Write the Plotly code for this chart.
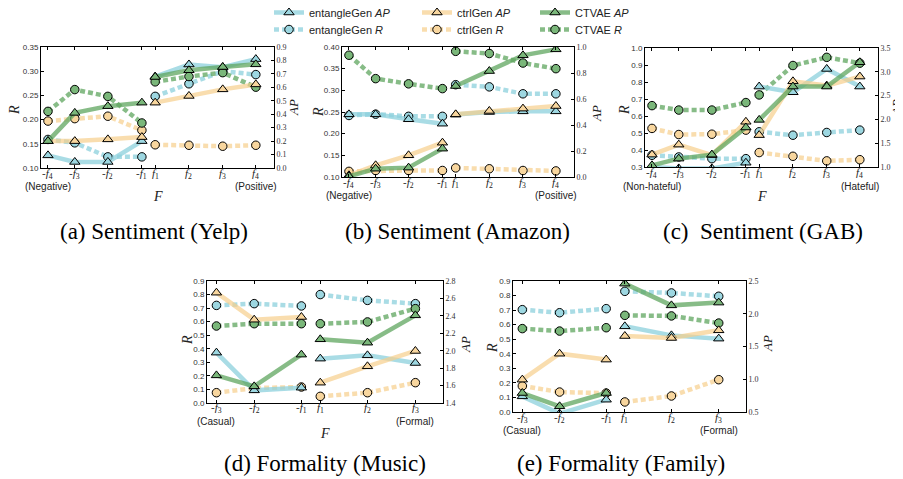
import plotly.graph_objects as go

W, H = 903, 479
OFF = 8  # the page body margin shifts the figure by this many pixels

# ---------------- data ----------------
sent_x = [3, 14.5, 28.7, 43.3, 49, 63.5, 78, 92.2]
sent_ticks = ["-<i>f</i><sub>4</sub>", "-<i>f</i><sub>3</sub>", "-<i>f</i><sub>2</sub>", "-<i>f</i><sub>1</sub>",
              "<i>f</i><sub>1</sub>", "<i>f</i><sub>2</sub>", "<i>f</i><sub>3</sub>", "<i>f</i><sub>4</sub>"]
form_x = [4, 20, 40, 48, 68, 88.3]
form_ticks = ["-<i>f</i><sub>3</sub>", "-<i>f</i><sub>2</sub>", "-<i>f</i><sub>1</sub>",
              "<i>f</i><sub>1</sub>", "<i>f</i><sub>2</sub>", "<i>f</i><sub>3</sub>"]

yelp_R_ent = [0.159, 0.152, 0.123, 0.123, 0.248, 0.274, 0.300, 0.293]
yelp_R_ctrl = [0.197, 0.202, 0.207, 0.178, 0.148, 0.147, 0.145, 0.147]
yelp_R_ctvae = [0.217, 0.262, 0.248, 0.193, 0.278, 0.289, 0.297, 0.267]
yelp_AP_ent = [0.094, 0.045, 0.045, 0.20, 0.68, 0.77, 0.75, 0.81]
yelp_AP_ctrl = [0.20, 0.20, 0.213, 0.23, 0.486, 0.536, 0.585, 0.622]
yelp_AP_ctvae = [0.20, 0.41, 0.46, 0.486, 0.677, 0.727, 0.751, 0.771]

amz_R_ent = [0.242, 0.245, 0.240, 0.240, 0.313, 0.308, 0.292, 0.292]
amz_R_ctrl = [0.113, 0.115, 0.115, 0.115, 0.121, 0.119, 0.115, 0.114]
amz_R_ctvae = [0.381, 0.327, 0.315, 0.304, 0.390, 0.385, 0.363, 0.350]
amz_AP_ent = [0.482, 0.482, 0.444, 0.410, 0.48, 0.50, 0.505, 0.505]
amz_AP_ctrl = [0.013, 0.09, 0.167, 0.264, 0.482, 0.508, 0.526, 0.546]
amz_AP_ctvae = [0.005, 0.064, 0.072, 0.218, 0.70, 0.815, 0.936, 0.982]

gab_R_ent = [0.369, 0.359, 0.349, 0.349, 0.507, 0.487, 0.503, 0.517]
gab_R_ctrl = [0.527, 0.491, 0.493, 0.517, 0.385, 0.363, 0.336, 0.343]
gab_R_ctvae = [0.661, 0.635, 0.635, 0.679, 0.724, 0.897, 0.945, 0.911]
gab_AP_ent = [1.0, 0.97, 0.97, 1.09, 2.69, 2.57, 3.06, 2.69]
gab_AP_ctrl = [1.26, 1.47, 1.25, 1.95, 1.67, 2.80, 2.71, 2.90]
gab_AP_ctvae = [1.035, 1.176, 1.26, 1.83, 1.99, 2.69, 2.69, 3.20]

mus_R_ent = [0.72, 0.733, 0.716, 0.80, 0.757, 0.733]
mus_R_ctrl = [0.076, 0.11, 0.118, 0.049, 0.076, 0.15]
mus_R_ctvae = [0.568, 0.585, 0.585, 0.585, 0.598, 0.696]
mus_AP_ent = [1.978, 1.545, 1.576, 1.909, 1.947, 1.859]
mus_AP_ctrl = [2.666, 2.356, 2.387, 1.633, 1.821, 1.997]
mus_AP_ctvae = [1.717, 1.591, 1.955, 2.131, 2.092, 2.406]

fam_R_ent = [0.703, 0.682, 0.71, 0.829, 0.818, 0.795]
fam_R_ctrl = [0.179, 0.137, 0.13, 0.069, 0.11, 0.222]
fam_R_ctvae = [0.573, 0.556, 0.579, 0.664, 0.66, 0.611]
fam_AP_ent = [0.739, 0.475, 0.688, 1.808, 1.67, 1.62]
fam_AP_ctrl = [0.994, 1.39, 1.30, 1.66, 1.63, 1.747]
fam_AP_ctvae = [0.79, 0.587, 0.79, 2.46, 2.128, 2.17]

model_names = ["entangleGen", "ctrlGen", "CTVAE"]
captions = ["(a) Sentiment (Yelp)", "(b) Sentiment (Amazon)", "(c)  Sentiment (GAB)",
            "(d) Formality (Music)", "(e) Formality (Family)"]
end_labels = [("(Negative)", "(Positive)"), ("(Negative)", "(Positive)"),
              ("(Non-hateful)", "(Hateful)"), ("(Casual)", "(Formal)"), ("(Casual)", "(Formal)")]

# ---------------- styling ----------------
line_cols = ["rgba(140,208,220,0.75)", "rgba(246,206,140,0.7)", "rgba(95,165,95,0.75)"]
fill_cols = ["#9dd7e1", "#f8d69e", "#7ab77a"]
SANS = "Liberation Sans, Arial, sans-serif"
SERIF = "Liberation Serif, Times New Roman, serif"


def py(p):
    return 1 - (p - OFF) / H


def px(p):
    return (p - OFF) / W


# panel geometry in window pixels: left, right, top, bottom; label positions
panels = [
    dict(box=(41, 274, 47, 168), x=sent_x, ticks=sent_ticks,
         R=[yelp_R_ent, yelp_R_ctrl, yelp_R_ctvae], AP=[yelp_AP_ent, yelp_AP_ctrl, yelp_AP_ctvae],
         rr=(0.10, 0.35, 0.05, ".2f"), ar=(0.0, 0.9, 0.1, ".1f"), ticky=174, endy=186, Fy=196,
         capy=231, capx=154, Rpos=(15, 110), APpos=(293, 108)),
    dict(box=(342, 574, 47, 177), x=sent_x, ticks=sent_ticks,
         R=[amz_R_ent, amz_R_ctrl, amz_R_ctvae], AP=[amz_AP_ent, amz_AP_ctrl, amz_AP_ctvae],
         rr=(0.10, 0.40, 0.05, ".2f"), ar=(0.0, 1.0, 0.2, ".1f"), ticky=183, endy=195, Fy=None,
         capy=231, capx=457, Rpos=(318, 112), APpos=(596, 114)),
    dict(box=(645, 878, 48, 167), x=sent_x, ticks=sent_ticks,
         R=[gab_R_ent, gab_R_ctrl, gab_R_ctvae], AP=[gab_AP_ent, gab_AP_ctrl, gab_AP_ctvae],
         rr=(0.3, 1.0, 0.1, ".1f"), ar=(1.0, 3.5, 0.5, ".1f"), ticky=173, endy=186, Fy=197,
         capy=231, capx=763, Rpos=(625, 110), APpos=(896, 108)),
    dict(box=(207, 443, 281, 403), x=form_x, ticks=form_ticks,
         R=[mus_R_ent, mus_R_ctrl, mus_R_ctvae], AP=[mus_AP_ent, mus_AP_ctrl, mus_AP_ctvae],
         rr=(0.0, 0.9, 0.1, ".1f"), ar=(1.4, 2.8, 0.2, ".1f"), ticky=408, endy=421, Fy=433,
         capy=463, capx=325, Rpos=(187, 340), APpos=(465, 344)),
    dict(box=(513, 746, 281, 412), x=form_x, ticks=form_ticks,
         R=[fam_R_ent, fam_R_ctrl, fam_R_ctvae], AP=[fam_AP_ent, fam_AP_ctrl, fam_AP_ctvae],
         rr=(0.0, 0.9, 0.1, ".1f"), ar=(0.5, 2.5, 0.5, ".1f"), ticky=418, endy=430, Fy=None,
         capy=463, capx=621, Rpos=(492, 348), APpos=(767, 344)),
]


def split(vals):
    h = len(vals) // 2
    return list(vals[:h]) + [None] + list(vals[h:])


def ticks_range(lo, hi, step):
    n = int(round((hi - lo) / step))
    return [round(lo + i * step, 4) for i in range(n + 1)]


fig = go.Figure()
annotations = []
layout = {}

r_legends = ["legend4", "legend5", "legend6"]
ap_legends = ["legend", "legend2", "legend3"]

for i, p in enumerate(panels):
    k = i + 1
    xa = "x" if k == 1 else f"x{k}"
    yR_idx = 2 * k - 1
    yA_idx = 2 * k
    yR = "y" if yR_idx == 1 else f"y{yR_idx}"
    yA = f"y{yA_idx}"
    xs = split(p["x"])
    # R series (dotted, circles) on left axis
    for m in range(3):
        fig.add_trace(go.Scatter(
            x=xs, y=split(p["R"][m]), xaxis=xa, yaxis=yR, mode="lines+markers",
            line=dict(color=line_cols[m], width=4.5, dash="5px,3px"),
            marker=dict(symbol="circle", size=8.5, color=fill_cols[m], line=dict(color="black", width=1)),
            name=f"{model_names[m]} <i>R</i>", legend=r_legends[m],
            showlegend=(k == 1), connectgaps=False, hoverinfo="skip"))
    # AP series (solid, triangles) on right axis
    for m in range(3):
        fig.add_trace(go.Scatter(
            x=xs, y=split(p["AP"][m]), xaxis=xa, yaxis=yA, mode="lines+markers",
            line=dict(color=line_cols[m], width=4.5),
            marker=dict(symbol="triangle-up", size=9, color=fill_cols[m], line=dict(color="black", width=1)),
            name=f"{model_names[m]} <i>AP</i>", legend=ap_legends[m],
            showlegend=(k == 1), connectgaps=False, hoverinfo="skip"))

    l, r, t, b = p["box"]
    xkey = "xaxis" if k == 1 else f"xaxis{k}"
    yRkey = "yaxis" if yR_idx == 1 else f"yaxis{yR_idx}"
    yAkey = f"yaxis{yA_idx}"
    layout[xkey] = dict(domain=[px(l), px(r)], range=[0, 100], anchor=yR,
                        tickvals=p["x"], showticklabels=False, ticks="inside", ticklen=3,
                        tickcolor="black", mirror="ticks", showline=True, linecolor="black",
                        linewidth=1, showgrid=False, zeroline=False)
    lo, hi, st, fmt = p["rr"]
    layout[yRkey] = dict(domain=[py(b), py(t)], range=[lo, hi], anchor=xa,
                         tickvals=ticks_range(lo, hi, st), tickformat=fmt, ticks="inside",
                         ticklen=3, tickcolor="black", showline=True, linecolor="black",
                         linewidth=1, mirror=True, showgrid=False, zeroline=False,
                         tickfont=dict(family=SANS, size=8, color="#333"))
    lo, hi, st, fmt = p["ar"]
    layout[yAkey] = dict(domain=[py(b), py(t)], range=[lo, hi], anchor=xa, overlaying=yR,
                         side="right", tickvals=ticks_range(lo, hi, st), tickformat=fmt,
                         ticks="inside", ticklen=3, tickcolor="black", showline=True,
                         linecolor="black", linewidth=1, showgrid=False, zeroline=False,
                         tickfont=dict(family=SERIF, size=8, color="#333"))
    # x tick labels placed through the x scale
    for xv, tt in zip(p["x"], p["ticks"]):
        annotations.append(dict(text=tt, xref=xa, x=xv, yref="paper", y=py(p["ticky"]),
                                showarrow=False, xanchor="center", yanchor="middle",
                                font=dict(family=SERIF, size=11, color="#222")))
    # axis titles
    annotations.append(dict(text="<i>R</i>", xref="paper", x=px(p["Rpos"][0]), yref="paper",
                            y=py(p["Rpos"][1]), showarrow=False, textangle=-90,
                            xanchor="center", yanchor="middle",
                            font=dict(family=SERIF, size=14, color="#222")))
    annotations.append(dict(text="<i>AP</i>", xref="paper", x=px(p["APpos"][0]), yref="paper",
                            y=py(p["APpos"][1]), showarrow=False, textangle=-90,
                            xanchor="center", yanchor="middle",
                            font=dict(family=SERIF, size=13, color="#222")))
    # end labels
    annotations.append(dict(text=end_labels[i][0], xref=xa, x=p["x"][0], yref="paper",
                            y=py(p["endy"]), showarrow=False, xanchor="center", yanchor="middle",
                            font=dict(family=SANS, size=10, color="#222")))
    annotations.append(dict(text=end_labels[i][1], xref=xa, x=p["x"][-1], yref="paper",
                            y=py(p["endy"]), showarrow=False, xanchor="center", yanchor="middle",
                            font=dict(family=SANS, size=10, color="#222")))
    if p["Fy"] is not None:
        annotations.append(dict(text="<i>F</i>", xref="paper", x=px((l + r) / 2), yref="paper",
                                y=py(p["Fy"]), showarrow=False, xanchor="center", yanchor="middle",
                                font=dict(family=SERIF, size=14, color="#222")))
    annotations.append(dict(text=captions[i], xref="paper", x=px(p["capx"]), yref="paper",
                            y=py(p["capy"]), showarrow=False, xanchor="center", yanchor="middle",
                            font=dict(family=SERIF, size=23, color="black")))

leg_common = dict(orientation="v", xanchor="left", yanchor="middle",
                  font=dict(family=SANS, size=11, color="#222"), bgcolor="rgba(0,0,0,0)",
                  itemwidth=30)
leg_cols = [269, 417, 535]
for m in range(3):
    layout[ap_legends[m]] = dict(x=px(leg_cols[m]), y=py(12.5), **leg_common)
    layout[r_legends[m]] = dict(x=px(leg_cols[m]), y=py(29.5), **leg_common)

fig.update_layout(width=W, height=H, margin=dict(l=0, r=0, t=0, b=0, autoexpand=False),
                  paper_bgcolor="white", plot_bgcolor="white",
                  annotations=annotations, **layout)

fig.write_html("out.html")
